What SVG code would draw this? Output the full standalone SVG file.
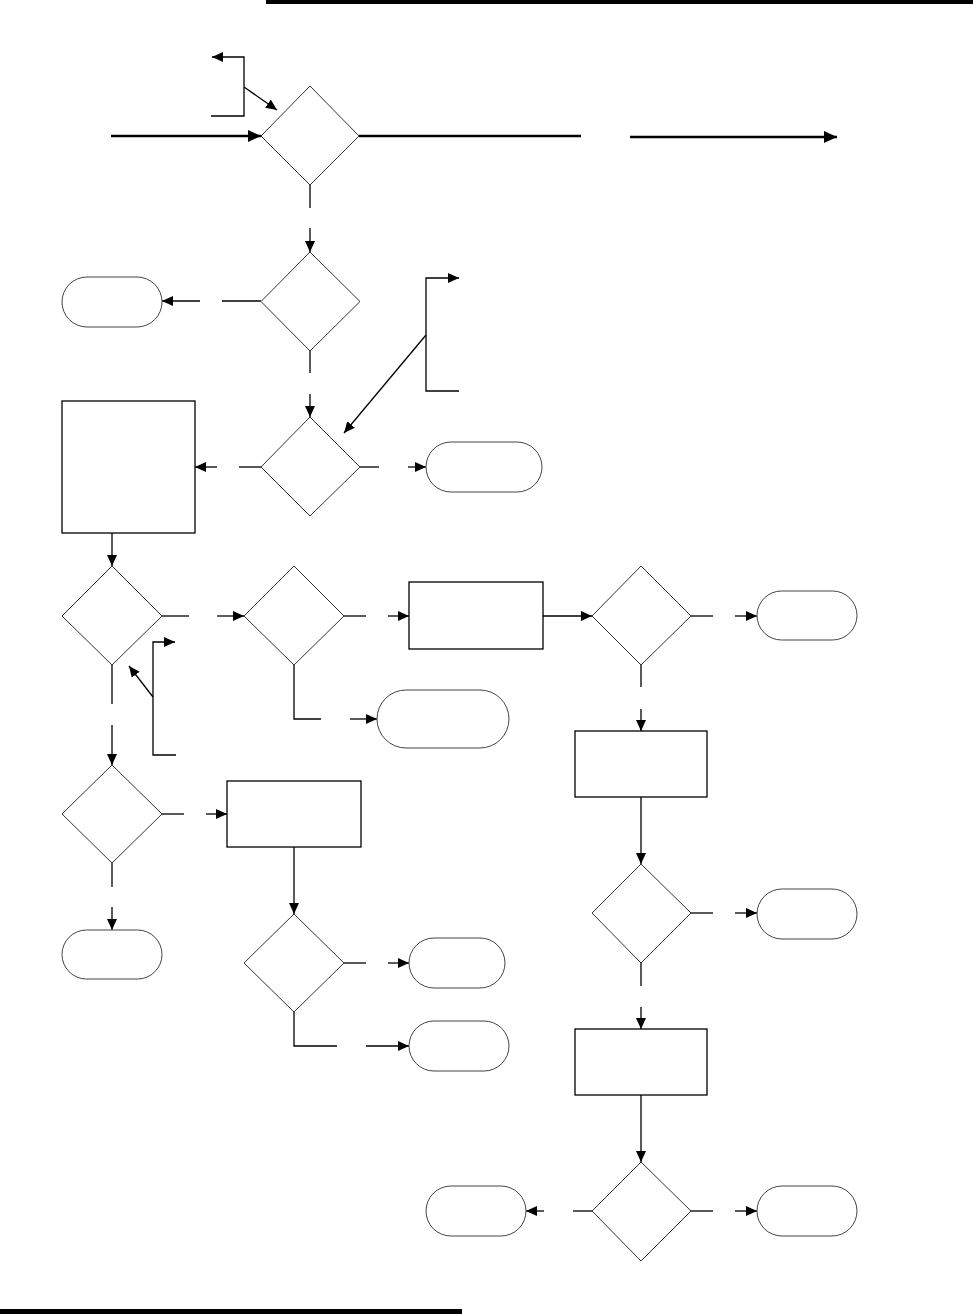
<svg xmlns="http://www.w3.org/2000/svg" width="973" height="1314" viewBox="0 0 973 1314">
<defs>
<marker id="ah" markerUnits="userSpaceOnUse" markerWidth="12" markerHeight="10" refX="11" refY="5" orient="auto"><path d="M0,0 L11,5 L0,10 Z" fill="#000"/></marker>
<marker id="ahb" markerUnits="userSpaceOnUse" markerWidth="14" markerHeight="12" refX="13" refY="6" orient="auto"><path d="M0,0 L13,6 L0,12 Z" fill="#000"/></marker>
</defs>
<style>
.d{fill:#fff;stroke:#333;stroke-width:1}
.r{fill:#fff;stroke:#000;stroke-width:1.3}
.t{fill:#fff;stroke:#444;stroke-width:1}
.c{fill:none;stroke:#000;stroke-width:1.3}
.ca{fill:none;stroke:#000;stroke-width:1.3;marker-end:url(#ah)}
.cb{fill:none;stroke:#000;stroke-width:2.5}
.cba{fill:none;stroke:#000;stroke-width:2.5;marker-end:url(#ahb)}
</style>
<rect x="266" y="0" width="707" height="4" fill="#000"/>
<rect x="0" y="1309" width="462" height="5" fill="#000"/>
<g id="connectors">
<line class="cba" x1="111" y1="136" x2="261" y2="136"/>
<line class="cb" x1="359" y1="136" x2="581" y2="136"/>
<line class="cba" x1="630" y1="137" x2="837" y2="137"/>
<polyline class="ca" points="211,116 244,116 244,57 212,57"/>
<line class="ca" x1="244" y1="87" x2="277" y2="110"/>
<line class="c" x1="310" y1="185" x2="310" y2="208"/>
<line class="ca" x1="310" y1="228" x2="310" y2="252"/>
<line class="c" x1="261" y1="301" x2="222" y2="301"/>
<line class="ca" x1="200" y1="301" x2="162" y2="301"/>
<line class="c" x1="310" y1="351" x2="310" y2="373"/>
<line class="ca" x1="310" y1="394" x2="310" y2="417"/>
<polyline class="ca" points="459,391 426,391 426,278 459,278"/>
<line class="ca" x1="426" y1="335" x2="344" y2="433"/>
<line class="c" x1="261" y1="467" x2="239" y2="467"/>
<line class="ca" x1="217" y1="467" x2="195" y2="467"/>
<line class="c" x1="360" y1="467" x2="379" y2="467"/>
<line class="ca" x1="408" y1="467" x2="426" y2="467"/>
<line class="ca" x1="112" y1="533" x2="112" y2="566"/>
<line class="c" x1="162" y1="616" x2="189" y2="616"/>
<line class="ca" x1="217" y1="616" x2="244" y2="616"/>
<line class="c" x1="344" y1="616" x2="366" y2="616"/>
<line class="ca" x1="388" y1="616" x2="409" y2="616"/>
<polyline class="c" points="294,665 294,719 321,719"/>
<line class="ca" x1="350" y1="719" x2="377" y2="719"/>
<polyline class="ca" points="176,755 153,755 153,642 175,642"/>
<line class="ca" x1="153" y1="697" x2="129" y2="666"/>
<line class="c" x1="112" y1="665" x2="112" y2="704"/>
<line class="ca" x1="112" y1="725" x2="112" y2="765"/>
<line class="c" x1="162" y1="814" x2="184" y2="814"/>
<line class="ca" x1="206" y1="814" x2="227" y2="814"/>
<line class="c" x1="112" y1="863" x2="112" y2="887"/>
<line class="ca" x1="112" y1="907" x2="112" y2="930"/>
<line class="ca" x1="294" y1="847" x2="294" y2="914"/>
<line class="c" x1="344" y1="963" x2="366" y2="963"/>
<line class="ca" x1="388" y1="963" x2="409" y2="963"/>
<polyline class="c" points="294,1012 294,1046 337,1046"/>
<line class="ca" x1="366" y1="1046" x2="409" y2="1046"/>
<line class="ca" x1="543" y1="616" x2="592" y2="616"/>
<line class="c" x1="691" y1="616" x2="713" y2="616"/>
<line class="ca" x1="735" y1="616" x2="757" y2="616"/>
<line class="c" x1="641" y1="665" x2="641" y2="687"/>
<line class="ca" x1="641" y1="709" x2="641" y2="731"/>
<line class="ca" x1="641" y1="797" x2="641" y2="864"/>
<line class="c" x1="691" y1="913" x2="713" y2="913"/>
<line class="ca" x1="735" y1="913" x2="757" y2="913"/>
<line class="c" x1="641" y1="963" x2="641" y2="986"/>
<line class="ca" x1="641" y1="1007" x2="641" y2="1029"/>
<line class="ca" x1="641" y1="1095" x2="641" y2="1162"/>
<line class="c" x1="592" y1="1211" x2="573" y2="1211"/>
<line class="ca" x1="544" y1="1211" x2="526" y2="1211"/>
<line class="c" x1="691" y1="1211" x2="713" y2="1211"/>
<line class="ca" x1="735" y1="1211" x2="757" y2="1211"/>
</g>
<g id="d1"><polygon class="d" points="310,86 359,136 310,185 261,136"/></g>
<g id="d2"><polygon class="d" points="310,252 360,301.5 310,351 261,301.5"/></g>
<g id="t1"><rect class="t" x="62" y="277" width="100" height="50" rx="25"/></g>
<g id="d3"><polygon class="d" points="310,417 360,467 310,516 261,467"/></g>
<g id="p1"><rect class="r" x="62" y="401" width="133" height="132"/></g>
<g id="t2"><rect class="t" x="426" y="442" width="116" height="50" rx="25"/></g>
<g id="d4"><polygon class="d" points="112,566 162,616 112,665 62,616"/></g>
<g id="d5"><polygon class="d" points="294,566 344,616 294,665 244,616"/></g>
<g id="p2"><rect class="r" x="409" y="582" width="134" height="67"/></g>
<g id="t3"><rect class="t" x="377" y="690" width="132" height="58" rx="29"/></g>
<g id="d6"><polygon class="d" points="112,765 162,814 112,863 62,814"/></g>
<g id="p3"><rect class="r" x="227" y="781" width="134" height="66"/></g>
<g id="t4"><rect class="t" x="62" y="930" width="100" height="49" rx="24.5"/></g>
<g id="d7"><polygon class="d" points="294,914 344,963 294,1012 244,963"/></g>
<g id="t5"><rect class="t" x="409" y="938" width="96" height="50" rx="25"/></g>
<g id="t6"><rect class="t" x="409" y="1021" width="100" height="50" rx="25"/></g>
<g id="d8"><polygon class="d" points="641,566 691,616 641,665 592,616"/></g>
<g id="t7"><rect class="t" x="757" y="591" width="100" height="49" rx="24.5"/></g>
<g id="p4"><rect class="r" x="575" y="731" width="132" height="66"/></g>
<g id="d9"><polygon class="d" points="641,864 691,913 641,963 592,913"/></g>
<g id="t8"><rect class="t" x="757" y="889" width="100" height="50" rx="25"/></g>
<g id="p5"><rect class="r" x="575" y="1029" width="132" height="66"/></g>
<g id="d10"><polygon class="d" points="641,1162 691,1211 641,1261 592,1211"/></g>
<g id="t9"><rect class="t" x="426" y="1186" width="100" height="50" rx="25"/></g>
<g id="t10"><rect class="t" x="757" y="1186" width="100" height="50" rx="25"/></g>
</svg>
